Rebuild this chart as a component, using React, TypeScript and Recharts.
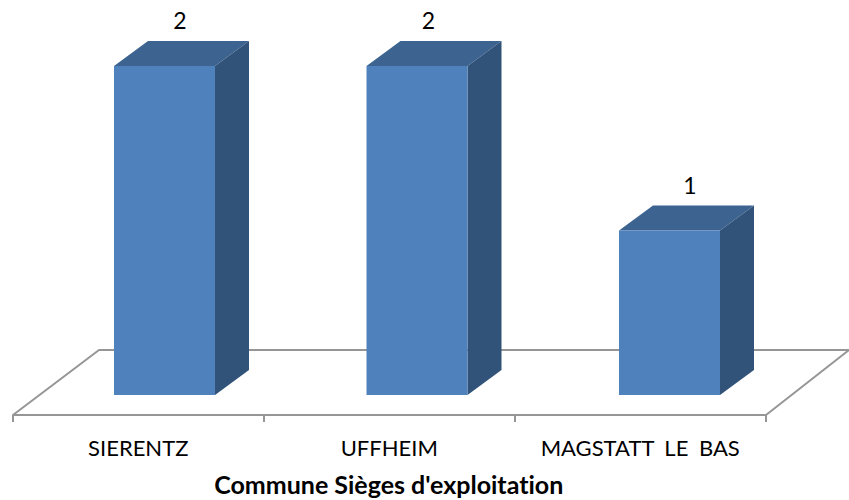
import { Bar, BarChart, LabelList, XAxis, YAxis, usePlotArea } from "recharts";

const communes = ["SIERENTZ", "UFFHEIM", "MAGSTATT LE BAS"];
const sieges = [2, 2, 1];
const axisTitle = "Commune Sièges d'exploitation";

const data = communes.map((commune, i) => ({ commune, sieges: sieges[i] }));

const FONT = "Lato, 'Open Sans', sans-serif";
const DEPTH_X = 34;
const DEPTH_Y = 25;
const GRID = "#969696";
// value labels sit a little off centre in the original
const labelNudge = [15.5, 11.5, 20.5];

// the sloped floor and the front axis, everything hangs off the plot area
function Floor() {
  const plot = usePlotArea();
  if (!plot) return null;
  const left = plot.x - 25;
  const right = left + plot.width - 4.5;
  const front = plot.y + plot.height + 20;
  const back = front - 65;
  const band = (right - left) / communes.length;
  const ticks = communes.map((_, i) => left + band * i).concat(right);
  return (
    <g stroke={GRID} strokeWidth={2} fill="none">
      <path d={`M${left} ${front}L${left + 86} ${back}L${right + 83} ${back}L${right} ${front}Z`} strokeLinejoin="round" />
      {ticks.map((x) => (
        <line key={x} x1={x} x2={x} y1={front} y2={front + 7} />
      ))}
    </g>
  );
}

function Box3D({ x, y, width, height }: any) {
  const r = x + width;
  const b = y + height;
  return (
    <g>
      <path d={`M${x} ${y}L${x + DEPTH_X} ${y - DEPTH_Y}L${r + DEPTH_X} ${y - DEPTH_Y}L${r} ${y}Z`} fill="#3d6491" />
      <path d={`M${r} ${y}L${r + DEPTH_X} ${y - DEPTH_Y}L${r + DEPTH_X} ${b - DEPTH_Y}L${r} ${b}Z`} fill="#325379" />
      <rect x={x} y={y} width={width} height={height} fill="#4f81bd" />
    </g>
  );
}

function CommuneTick({ x, y, payload, index }: any) {
  return (
    <text
      x={x - 26 - 1.5 * index}
      y={y + 53}
      textAnchor="middle"
      fontFamily={FONT}
      fontSize={22}
      fill="#000"
      style={{ fontVariantLigatures: "none", wordSpacing: 5 }}
    >
      {payload.value}
    </text>
  );
}

function ValueLabel({ x, y, width, value, index }: any) {
  return (
    <text x={x + width / 2 + labelNudge[index]} y={y - 37} textAnchor="middle" fontFamily={FONT} fontSize={23} fill="#000">
      {value}
    </text>
  );
}

export default function App() {
  return (
    <div style={{ position: "absolute", left: 0, top: 0, width: 849, height: 500, background: "#fff" }}>
      <BarChart
        width={849}
        height={500}
        data={data}
        margin={{ left: 38, right: 53.5, top: 66, bottom: 0 }}
      >
        <Floor />
        <XAxis
          dataKey="commune"
          height={105}
          axisLine={false}
          tickLine={false}
          interval={0}
          tick={<CommuneTick />}
          label={{
            value: axisTitle,
            position: "insideBottom",
            offset: 6,
            dx: -28,
            fontFamily: FONT,
            fontSize: 25,
            fontWeight: 700,
            fill: "#000",
            style: { fontVariantLigatures: "none" },
          }}
        />
        <YAxis hide domain={[0, 2]} width={0} />
        <Bar dataKey="sieges" barSize={101} shape={<Box3D />} isAnimationActive={false}>
          <LabelList dataKey="sieges" content={<ValueLabel />} />
        </Bar>
      </BarChart>
    </div>
  );
}
